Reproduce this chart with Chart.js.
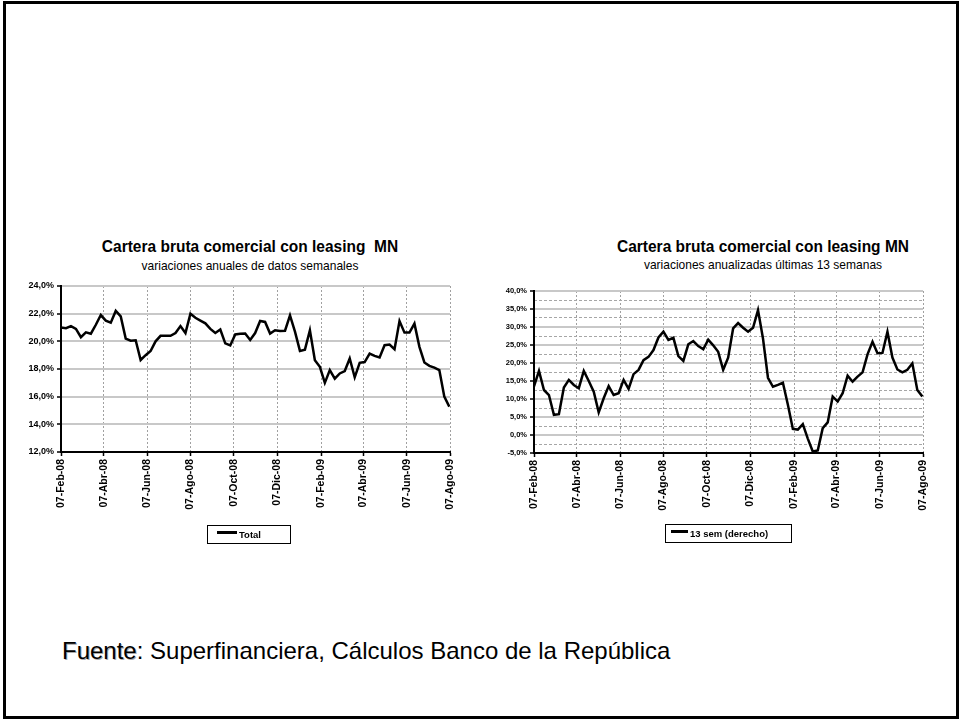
<!DOCTYPE html>
<html lang="es">
<head>
<meta charset="utf-8">
<script src="https://cdn.jsdelivr.net/npm/chart.js@4.4.1/dist/chart.umd.min.js"></script>
<style>
  body {
    margin: 0;
    width: 961px;
    height: 721px;
    position: relative;
    overflow: hidden;
    background: #fff;
    font-family: "Liberation Sans", Arial, sans-serif;
    color: #000;
  }
  .marco {
    position: absolute;
    left: 3px; top: 1px;
    width: 956px; height: 718px;
    border: 3px solid #000;
    box-sizing: border-box;
  }
  canvas { position: absolute; }
  .titulo, .subtitulo {
    position: absolute;
    width: 420px;
    text-align: center;
    white-space: pre;
    transform: scaleY(1.08);
  }
  .titulo { font-size: 15.5px; line-height: 16px; font-weight: bold; }
  .subtitulo { font-size: 12px; line-height: 12px; }
  .leyenda {
    position: absolute;
    height: 19px;
    border: 1px solid #000;
    box-sizing: border-box;
    font-size: 9.5px;
    font-weight: bold;
    line-height: 17px;
  }
  .leyenda i { position: absolute; top: 5px; height: 2.5px; background: #000; }
  .leyenda span { position: absolute; top: 0; }
  .fuente {
    position: absolute;
    left: 62px; top: 639px;
    font-size: 24px;
    line-height: 24px;
    white-space: nowrap;
  }
  .fuente b { font-weight: normal; text-shadow: 1px 1px 0 #aaa; }
</style>
</head>
<body>
<div class="marco"></div>

<div class="titulo" style="left:40px;top:239px">Cartera bruta comercial con leasing  MN</div>
<div class="subtitulo" style="left:40px;top:260px">variaciones anuales de datos semanales</div>
<div class="titulo" style="left:553px;top:239px">Cartera bruta comercial con leasing MN</div>
<div class="subtitulo" style="left:553px;top:259px">variaciones anualizadas últimas 13 semanas</div>

<canvas id="graficoTotal" width="470" height="250" style="left:0;top:276px"></canvas>
<canvas id="grafico13" width="465" height="250" style="left:480px;top:280px"></canvas>

<div class="leyenda" style="left:207px;top:525px;width:84px"><i style="left:9px;width:20px"></i><span style="left:31px">Total</span></div>
<div class="leyenda" style="left:665px;top:524px;width:127px"><i style="left:5px;width:17px"></i><span style="left:24px">13 sem (derecho)</span></div>

<div class="fuente"><b>Fuente</b>: Superfinanciera, Cálculos Banco de la República</div>

<script>
// serie semanal, primer dato el 07-Feb-08
const inicio = '07-Feb-08';
const etiquetasX = ['07-Feb-08', '07-Abr-08', '07-Jun-08', '07-Ago-08', '07-Oct-08',
  '07-Dic-08', '07-Feb-09', '07-Abr-09', '07-Jun-09', '07-Ago-09'];

// variación anual (%), 79 semanas
const totalAnual = [
  21.0, 20.95, 21.1, 20.9, 20.3, 20.65, 20.55, 21.2, 21.9, 21.5,
  21.35, 22.2, 21.8, 20.2, 20.05, 20.08, 18.65, 19.0, 19.3, 20.0,
  20.4, 20.4, 20.4, 20.6, 21.1, 20.6, 22.0, 21.7, 21.5, 21.3,
  20.9, 20.6, 20.85, 19.85, 19.7, 20.5, 20.55, 20.57, 20.1, 20.6,
  21.47, 21.4, 20.56, 20.8, 20.75, 20.77, 21.88, 20.7, 19.31, 19.4,
  20.8, 18.64, 18.16, 17.0, 17.92, 17.3, 17.68, 17.85, 18.76, 17.4,
  18.45, 18.5, 19.12, 18.95, 18.83, 19.72, 19.77, 19.43, 21.47, 20.63,
  20.63, 21.28, 19.6, 18.47, 18.23, 18.1, 17.92, 16.0, 15.28
];

// variación anualizada últimas 13 semanas (%)
const sem13 = [
  13.5, 17.8, 12.5, 11.1, 5.6, 5.8, 13.2, 15.3, 13.9, 13.0,
  17.8, 15.0, 12.05, 6.3, 10.2, 13.6, 11.1, 11.6, 15.3, 12.8,
  16.9, 18.1, 20.8, 21.7, 23.6, 27.1, 28.7, 26.4, 27.0, 21.9,
  20.6, 25.2, 26.1, 24.7, 23.8, 26.5, 24.9, 23.1, 18.1, 21.5,
  29.6, 31.1, 29.8, 28.7, 29.8, 34.7, 26.8, 15.9, 13.4, 13.9,
  14.5, 8.4, 1.7, 1.5, 3.0, -1.0, -4.6, -4.3, 1.9, 3.5,
  10.7, 9.3, 11.6, 16.5, 14.8, 16.2, 17.4, 22.4, 25.9, 22.7,
  22.8, 28.7, 21.5, 18.2, 17.4, 18.1, 19.9, 12.5, 10.7
];

// eje y: [min, max, paso]
const ejeTotal = [12, 24, 2];
const eje13 = [-5, 40, 5];

const meses = { Ene: 0, Feb: 1, Mar: 2, Abr: 3, May: 4, Jun: 5, Jul: 6, Ago: 7, Sep: 8, Oct: 9, Nov: 10, Dic: 11 };

function fecha(txt) {
  const [d, m, a] = txt.split('-');
  return Date.UTC(2000 + Number(a), meses[m], Number(d));
}

function dias(txt) {
  return (fecha(txt) - fecha(inicio)) / 864e5;
}

const pct = v => v.toFixed(1).replace('.', ',') + '%';
const fuente = 'Liberation Sans';

function makeChart(id, valores, eje, caja, area, tamY, menor) {
  const scales = {
    x: {
      type: 'linear',
      min: 0,
      max: dias(etiquetasX[etiquetasX.length - 1]),
      afterBuildTicks: s => { s.ticks = etiquetasX.map(e => ({ value: dias(e) })); },
      afterFit: s => { s.height = caja.y + caja.h - area.b; },
      ticks: {
        autoSkip: false,
        minRotation: 90,
        maxRotation: 90,
        padding: 3,
        color: '#000',
        font: { family: fuente, size: 10.5, weight: 'bold' },
        callback: (v, i) => etiquetasX[i]
      },
      grid: { color: '#a0a0a0', lineWidth: 1, tickColor: '#000', tickLength: 4, tickWidth: 1.5 },
      border: { color: '#000', width: 2, dash: [2, 2] }
    },
    y: {
      min: eje[0],
      max: eje[1],
      afterFit: s => { s.width = area.l - caja.x; },
      ticks: {
        stepSize: eje[2],
        padding: 3,
        color: '#000',
        font: { family: fuente, size: tamY, weight: 'bold' },
        callback: pct
      },
      grid: { color: '#c8c8c8', lineWidth: 2, tickColor: '#000', tickLength: 4, tickWidth: 1.5 },
      border: { color: '#000', width: 2 }
    }
  };

  if (menor) {
    // líneas punteadas intermedias
    scales.yMenor = {
      position: 'left',
      min: eje[0],
      max: eje[1],
      afterFit: s => { s.width = 0; },
      ticks: { display: false, stepSize: menor },
      grid: {
        drawTicks: false,
        lineWidth: 1,
        color: c => (c.tick.value % eje[2] === 0 ? 'rgba(0,0,0,0)' : '#a6a6a6')
      },
      border: { display: false, dash: [3, 2] }
    };
  }

  return new Chart(document.getElementById(id), {
    type: 'line',
    data: {
      datasets: [{
        data: valores.map((v, i) => ({ x: i * 7, y: v })),
        yAxisID: 'y',
        borderColor: '#000',
        borderWidth: 2.5,
        pointRadius: 0,
        tension: 0,
        fill: false
      }]
    },
    options: {
      responsive: false,
      animation: false,
      layout: { padding: { top: area.t - caja.y, right: caja.x + caja.w - area.r, left: 0, bottom: 0 } },
      plugins: { legend: { display: false }, tooltip: { enabled: false } },
      scales
    }
  });
}

makeChart('graficoTotal', totalAnual, ejeTotal,
  { x: 0, y: 276, w: 470, h: 250 }, { l: 61, t: 286, r: 450, b: 452 }, 9);
makeChart('grafico13', sem13, eje13,
  { x: 480, y: 280, w: 465, h: 250 }, { l: 534, t: 291, r: 923, b: 453 }, 7.5, 2.5);
</script>
</body>
</html>
